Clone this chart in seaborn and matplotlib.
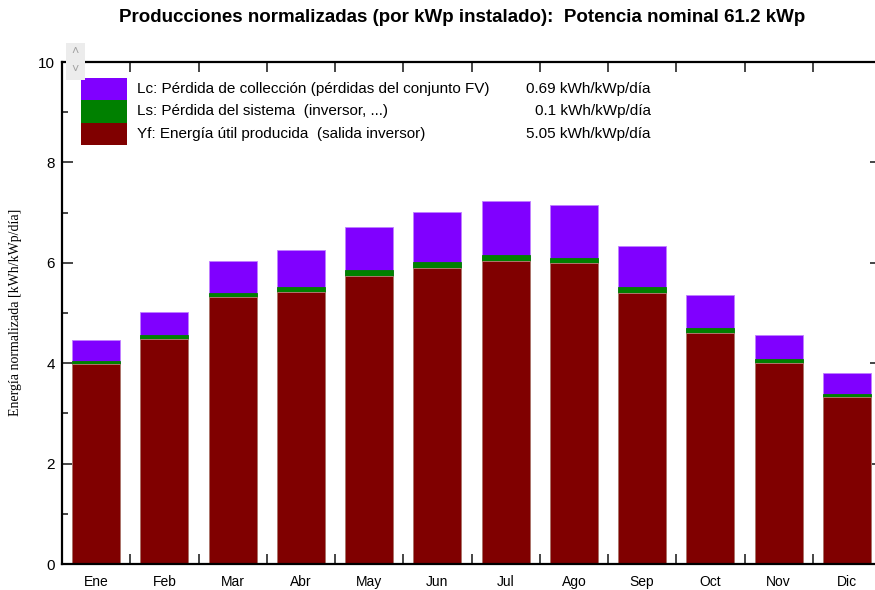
import numpy as np
import pandas as pd
import matplotlib
matplotlib.use('Agg')
import matplotlib.pyplot as plt
import seaborn as sns
from matplotlib.patches import Rectangle
from matplotlib.ticker import MultipleLocator, FixedLocator

# monthly normalized productions [kWh/kWp/day]
months = ['Ene', 'Feb', 'Mar', 'Abr', 'May', 'Jun', 'Jul', 'Ago', 'Sep', 'Oct', 'Nov', 'Dic']
yf = [3.98, 4.48, 5.32, 5.42, 5.74, 5.90, 6.04, 5.99, 5.40, 4.61, 4.00, 3.33]
ls = [0.06, 0.08, 0.08, 0.10, 0.12, 0.12, 0.12, 0.11, 0.11, 0.10, 0.08, 0.06]
lc = [0.42, 0.46, 0.64, 0.73, 0.85, 0.99, 1.08, 1.05, 0.82, 0.64, 0.48, 0.41]

legend_labels = ['Lc: Pérdida de collección (pérdidas del conjunto FV)',
                 'Ls: Pérdida del sistema  (inversor, ...)',
                 'Yf: Energía útil producida  (salida inversor)']
legend_values = ['0.69 kWh/kWp/día', '0.1 kWh/kWp/día', '5.05 kWh/kWp/día']

c_lc = '#8000FF'
c_ls = '#008000'
c_yf = '#800000'

sns.set_theme(style='white')
plt.rcParams['font.family'] = ['Liberation Sans', 'DejaVu Sans']
plt.rcParams['text.color'] = 'black'

df = pd.DataFrame({'mes': months, 'yf': yf, 'ls': ls, 'lc': lc})
df['yf_ls'] = df['yf'] + df['ls']
df['total'] = df['yf_ls'] + df['lc']

W, H = 875, 590
fig = plt.figure(figsize=(W / 100, H / 100), dpi=100)
ax = fig.add_axes([62 / W, 1 - 564 / H, (881 - 62) / W, (564 - 62) / H])

bar_kw = dict(width=0.7, linewidth=0.6, ax=ax)
sns.barplot(data=df, x='mes', y='total', color=c_lc, saturation=1, edgecolor='#c080ff', **bar_kw)
sns.barplot(data=df, x='mes', y='yf_ls', color=c_ls, saturation=1, edgecolor=c_ls, **bar_kw)
sns.barplot(data=df, x='mes', y='yf', color=c_yf, saturation=1, edgecolor='#c07f7f', **bar_kw)

ax.set_xlim(-0.5, 11.5)
ax.set_ylim(0, 10)
ax.set_xlabel('')
ax.set_ylabel('')

for s in ax.spines.values():
    s.set_linewidth(1.6)
    s.set_color('black')

ax.yaxis.set_major_locator(MultipleLocator(2))
ax.yaxis.set_minor_locator(MultipleLocator(1))
ax.xaxis.set_minor_locator(FixedLocator(np.arange(-0.5, 12, 1)))
ax.tick_params(axis='x', which='major', length=0, labelsize=10, pad=8, labelcolor='black')
ax.tick_params(axis='x', which='minor', direction='in', length=7, width=1.2,
               top=True, bottom=True)
ax.tick_params(axis='y', which='major', direction='in', length=8, width=1.2,
               left=True, right=True, labelsize=11, pad=5, labelcolor='black')
ax.tick_params(axis='y', which='minor', direction='in', length=4, width=1.2,
               left=True, right=True)
ax.grid(False)

fig.text(462 / W, 1 - 18 / H, 'Producciones normalizadas (por kWp instalado):  Potencia nominal 61.2 kWp',
         ha='center', va='center', fontsize=13.5, fontweight='bold')
fig.text(16 / W, 1 - 312 / H, 'Energía normalizada [kWh/kWp/día]', rotation=90,
         ha='center', va='center', fontsize=10, family=['Liberation Serif', 'DejaVu Serif'])

# scroll control in upper-left corner
fig.patches.append(Rectangle((66 / W, 1 - 80 / H), 19 / W, 37 / H, transform=fig.transFigure,
                             facecolor='#ececec', edgecolor='none', zorder=5))
fig.text(75.5 / W, 1 - 52 / H, '˄', ha='center', va='center', fontsize=9, color='#a0a0a0', zorder=6)
fig.text(75.5 / W, 1 - 70 / H, '˅', ha='center', va='center', fontsize=9, color='#a0a0a0', zorder=6)

# legend block
rows_top = [78, 100, 123]
rows_h = [22, 23, 22]
for top, h, col, lab, val in zip(rows_top, rows_h, [c_lc, c_ls, c_yf], legend_labels, legend_values):
    fig.patches.append(Rectangle((81 / W, 1 - (top + h) / H), 46 / W, h / H,
                                 transform=fig.transFigure, facecolor=col, edgecolor='none'))
    yc = 1 - (top + h / 2) / H
    fig.text(137 / W, yc, lab, ha='left', va='center', fontsize=11)
    fig.text(651 / W, yc, val, ha='right', va='center', fontsize=11)

fig.savefig('out.png', dpi=100)
